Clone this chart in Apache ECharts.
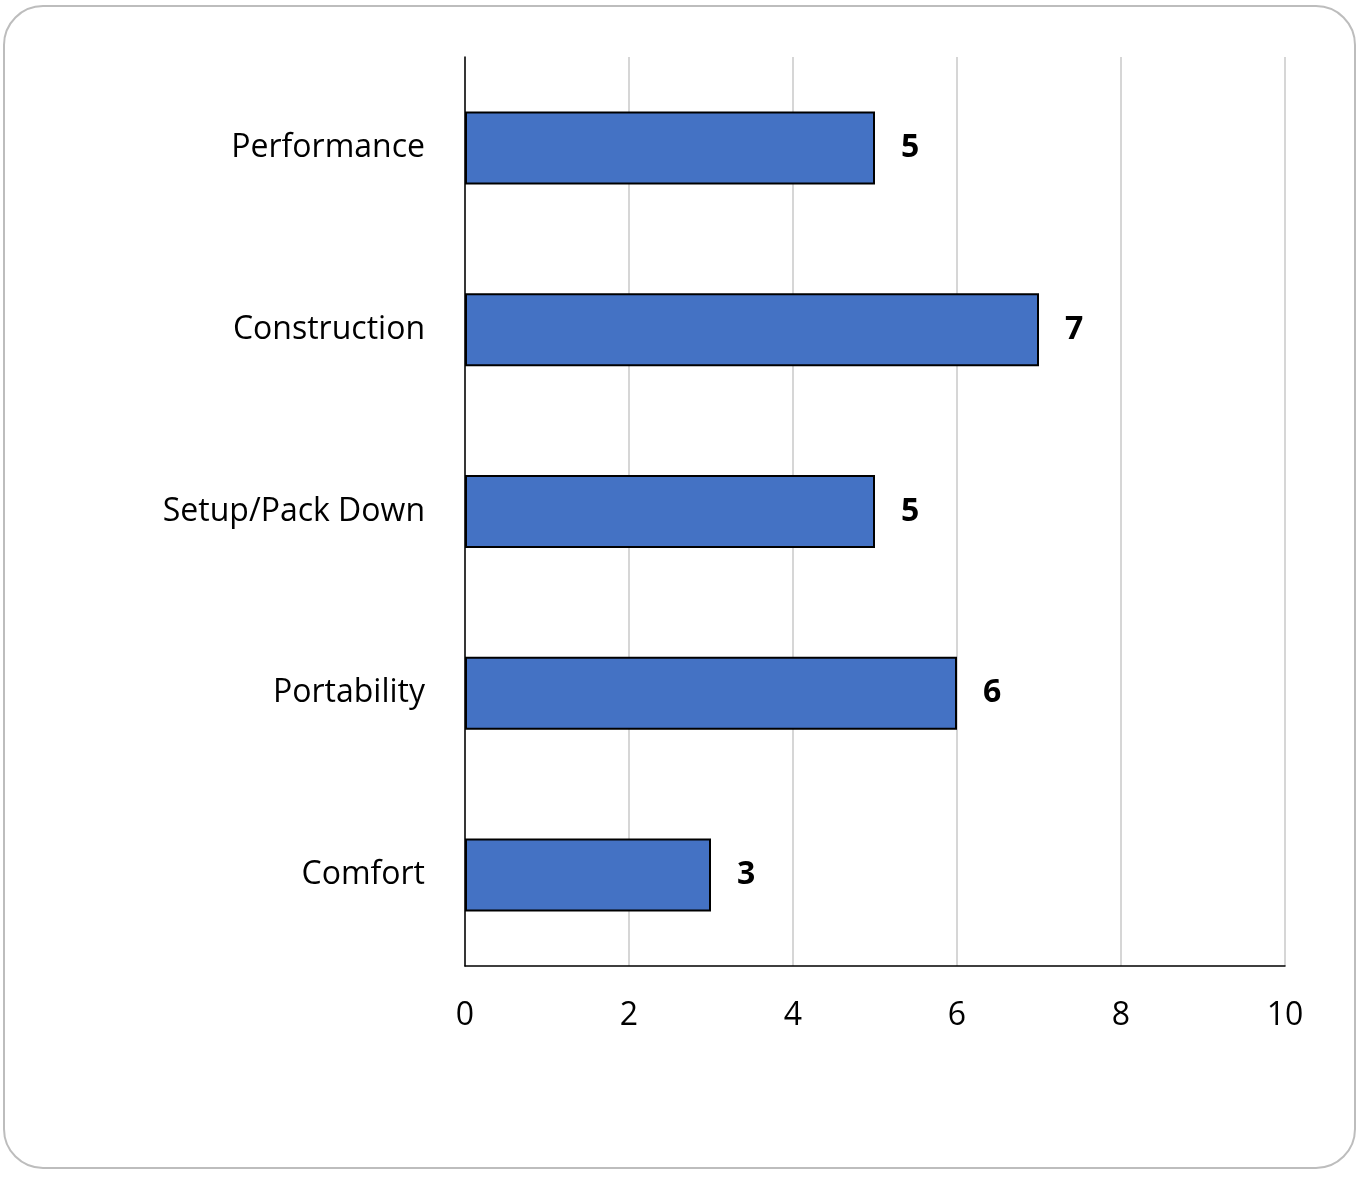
<!DOCTYPE html>
<html>
<head>
<meta charset="utf-8">
<script src="https://cdn.jsdelivr.net/npm/echarts@6/dist/echarts.min.js"></script>
<style>
  html, body { margin: 0; padding: 0; background: #fff; }
  #frame {
    position: absolute; left: 3px; top: 5px; width: 1353px; height: 1164px;
    border: 2px solid #bdbdbd; border-radius: 40px; box-sizing: border-box;
  }
  #chart { position: absolute; left: 0; top: 0; width: 1365px; height: 1177px; }
</style>
</head>
<body>
<div id="frame"></div>
<div id="chart"></div>
<script>
// 数据
var categories = ['Performance', 'Construction', 'Setup/Pack Down', 'Portability', 'Comfort']
var values = [5, 7, 5, 6, 3]
var fontName = '"Open Sans", "Liberation Sans", sans-serif'

var chart = echarts.init(document.getElementById('chart'))
var option = {
  animation: false,
  grid: { left: 465, right: 80, top: 57, bottom: 211 },
  xAxis: {
    type: 'value',
    min: 0,
    max: 10,
    interval: 2,
    axisLine: { show: true, lineStyle: { color: '#000', width: 1.5 } },
    axisTick: { show: false },
    axisLabel: { color: '#000', fontSize: 32, fontFamily: fontName, margin: 34 },
    splitLine: { show: true, lineStyle: { color: '#c8c8c8', width: 1.5 } }
  },
  yAxis: {
    type: 'category',
    data: categories,
    inverse: true,
    axisLine: { show: true, lineStyle: { color: '#000', width: 1.5 } },
    axisTick: { show: false },
    axisLabel: { color: '#000', fontSize: 32, fontFamily: fontName, margin: 40 }
  },
  series: [
    {
      type: 'bar',
      data: values,
      barWidth: 73,
      itemStyle: { color: '#4472c4', borderColor: '#000', borderWidth: 2 },
      label: {
        show: true,
        position: 'right',
        distance: 26,
        color: '#000',
        fontSize: 32,
        fontWeight: 'bold',
        fontFamily: fontName
      }
    }
  ]
}
chart.setOption(option)
</script>
</body>
</html>
